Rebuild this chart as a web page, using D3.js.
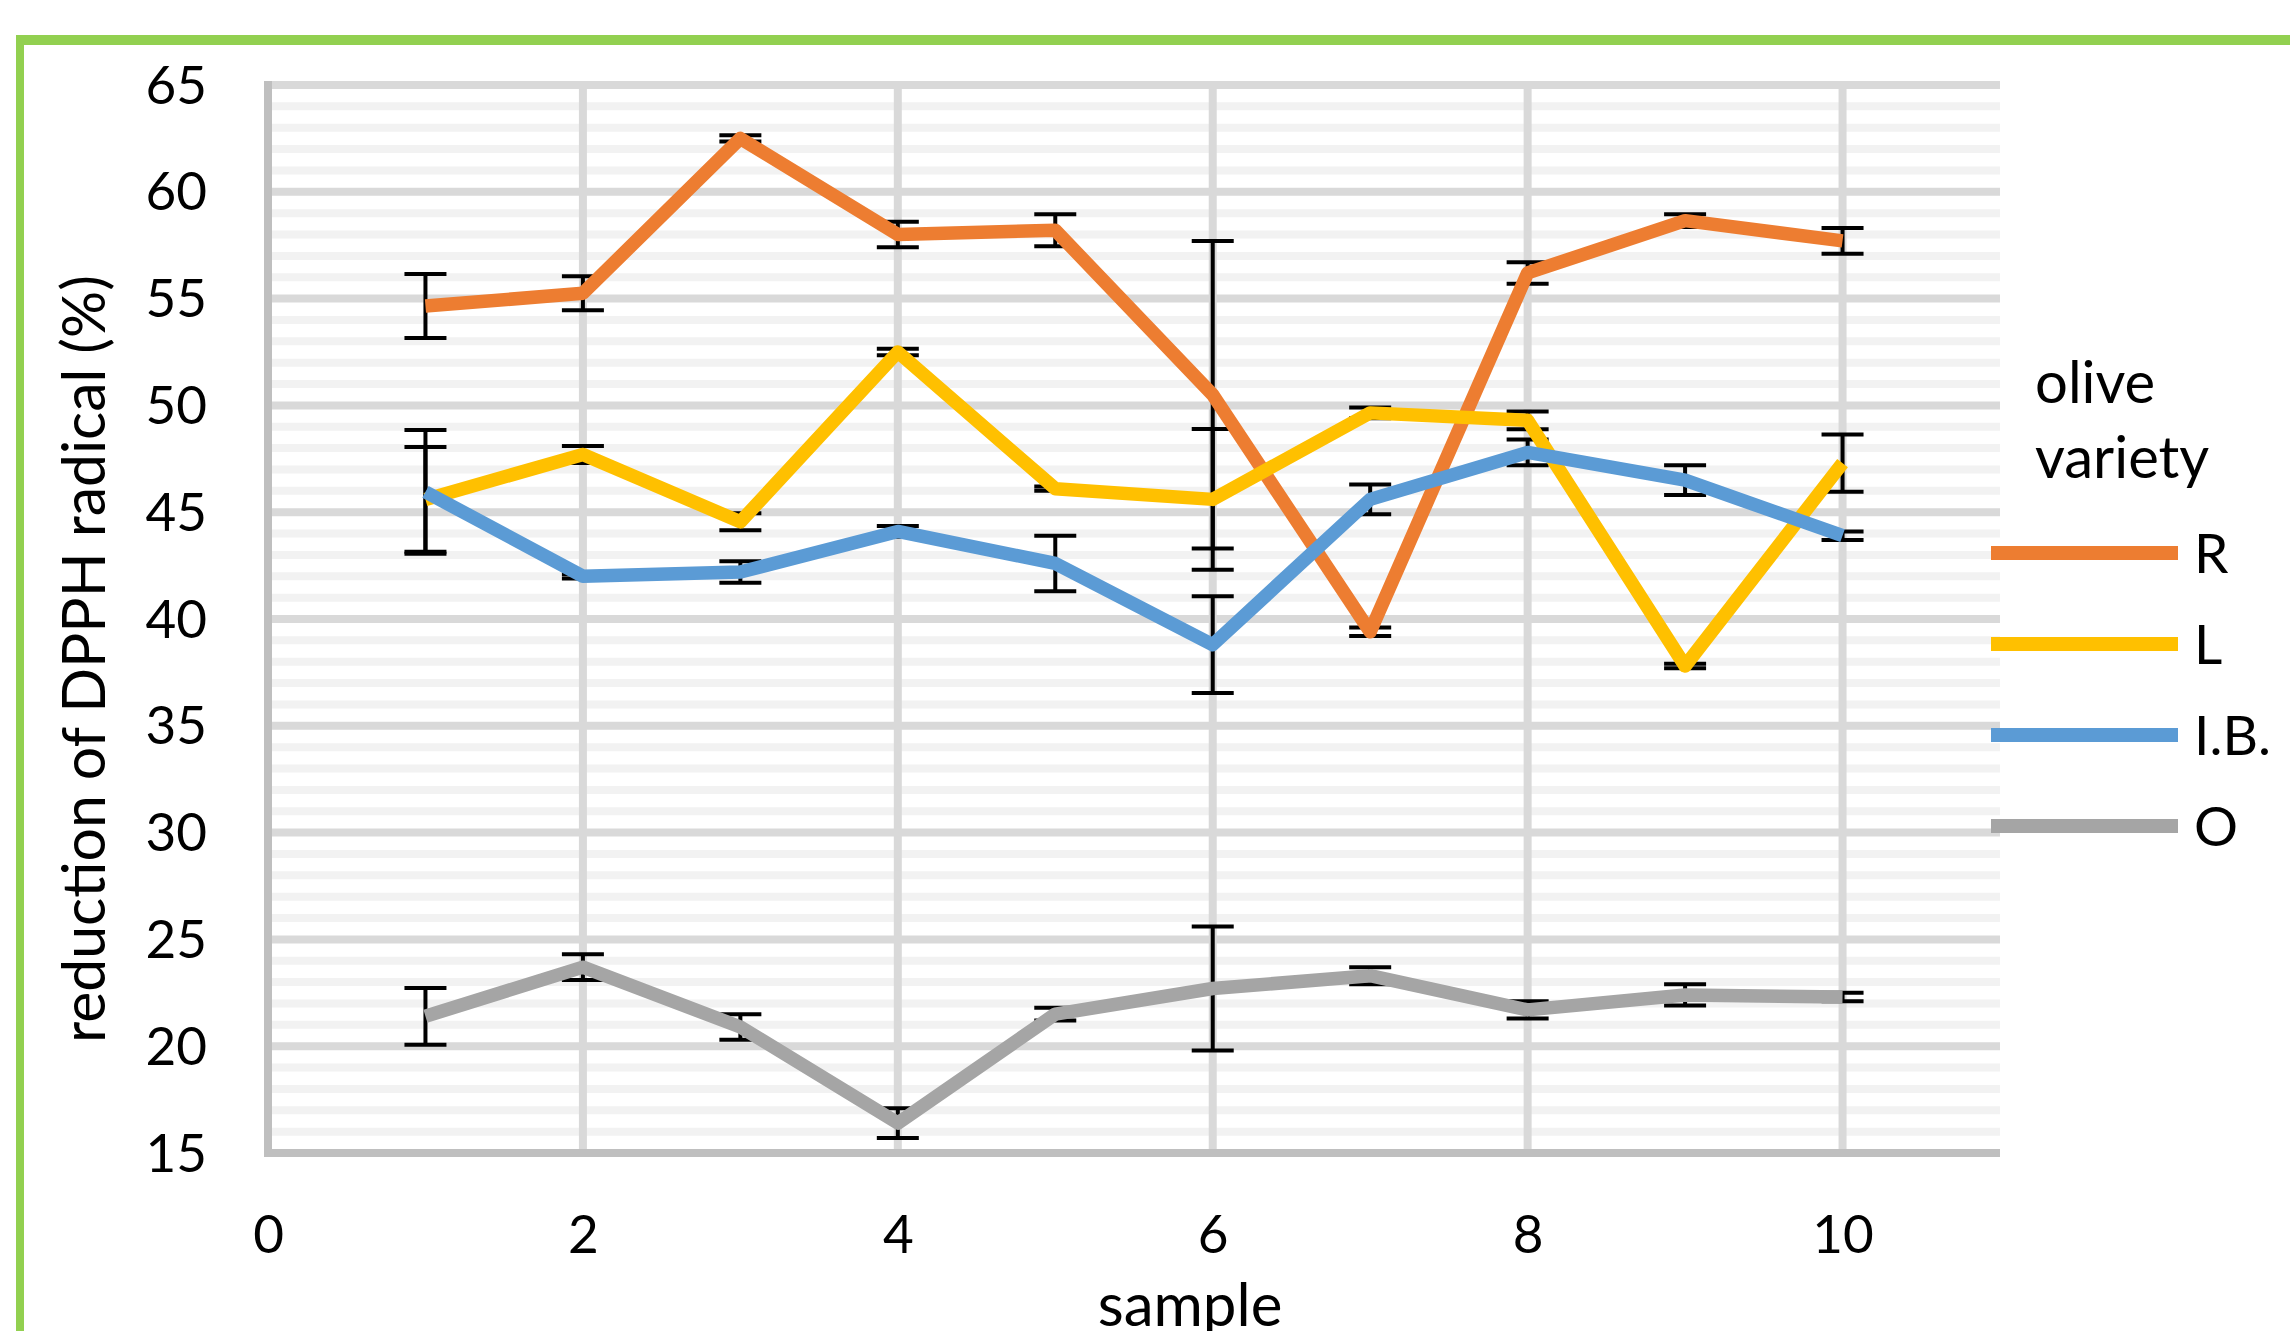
<!DOCTYPE html>
<html>
<head>
<meta charset="utf-8">
<script src="https://cdn.jsdelivr.net/npm/d3@7"></script>
<style>
  html, body { margin: 0; padding: 0; background: #ffffff; }
  svg { display: block; }
  text { font-family: Lato, "Open Sans", sans-serif; fill: #000; }
</style>
</head>
<body>
<svg id="chart" width="2290" height="1331"></svg>
<script>
// ---- data ----
const samples = [1, 2, 3, 4, 5, 6, 7, 8, 9, 10];
const seriesNames = ["R", "L", "I.B.", "O"];
const seriesColors = ["#ED7D31", "#FFC000", "#5B9BD5", "#A5A5A5"];
const valuesR  = [54.65, 55.25, 62.5, 58.0, 58.2, 50.5, 39.4, 56.2, 58.65, 57.7];
const errR     = [1.5, 0.8, 0.15, 0.6, 0.75, 7.2, 0.2, 0.5, 0.3, 0.6];
const valuesL  = [45.6, 47.7, 44.55, 52.5, 46.1, 45.6, 49.65, 49.3, 37.8, 47.3];
const errL     = [2.45, 0.4, 0.4, 0.15, 0.1, 3.3, 0.25, 0.42, 0.1, 1.34];
const valuesIB = [45.95, 42.0, 42.2, 44.1, 42.6, 38.8, 45.6, 47.8, 46.5, 43.9];
const errIB    = [2.9, 0.1, 0.5, 0.25, 1.3, 2.27, 0.7, 0.6, 0.7, 0.2];
const valuesO  = [21.4, 23.7, 20.9, 16.4, 21.5, 22.7, 23.3, 21.7, 22.4, 22.3];
const errO     = [1.33, 0.6, 0.6, 0.7, 0.3, 2.9, 0.4, 0.4, 0.5, 0.2];
const xTicks = [0, 2, 4, 6, 8, 10];
const yTicks = [15, 20, 25, 30, 35, 40, 45, 50, 55, 60, 65];
const yMinorTicks = d3.range(16, 65, 1).filter(v => v % 5 !== 0);
const xTitle = "sample";
const yTitle = "reduction of DPPH radical (%)";
const legendTitle = ["olive", "variety"];

const allValues = [valuesR, valuesL, valuesIB, valuesO];
const allErrors = [errR, errL, errIB, errO];
const series = seriesNames.map((name, i) => ({
  name, color: seriesColors[i],
  points: samples.map((s, j) => ({ x: s, y: allValues[i][j], e: allErrors[i][j] }))
}));

// ---- layout ----
const svg = d3.select("#chart");
const x = d3.scaleLinear().domain([0, 11]).range([268, 2000]);
const y = d3.scaleLinear().domain([15, 65]).range([1153, 85]);

// green frame (top + left)
svg.append("line").attr("x1", 16).attr("x2", 2290).attr("y1", 40).attr("y2", 40)
  .attr("stroke", "#92D050").attr("stroke-width", 10);
svg.append("line").attr("x1", 20).attr("x2", 20).attr("y1", 35).attr("y2", 1331)
  .attr("stroke", "#92D050").attr("stroke-width", 8);

const plot = svg.append("g");

// minor horizontal gridlines
plot.selectAll("line.minor").data(yMinorTicks).join("line")
  .attr("class", "minor")
  .attr("x1", x(0)).attr("x2", x(11))
  .attr("y1", d => y(d)).attr("y2", d => y(d))
  .attr("stroke", "#F2F2F2").attr("stroke-width", 8);

// major horizontal gridlines
plot.selectAll("line.major").data(yTicks.filter(v => v > 15)).join("line")
  .attr("class", "major")
  .attr("x1", x(0)).attr("x2", x(11))
  .attr("y1", d => y(d)).attr("y2", d => y(d))
  .attr("stroke", "#D9D9D9").attr("stroke-width", 8);

// vertical gridlines
plot.selectAll("line.vgrid").data(xTicks.filter(v => v > 0)).join("line")
  .attr("class", "vgrid")
  .attr("x1", d => x(d)).attr("x2", d => x(d))
  .attr("y1", y(65)).attr("y2", y(15))
  .attr("stroke", "#D9D9D9").attr("stroke-width", 8);

// axis lines
plot.append("line").attr("x1", x(0)).attr("x2", x(0)).attr("y1", y(65) - 4).attr("y2", y(15) + 4)
  .attr("stroke", "#BFBFBF").attr("stroke-width", 8);
plot.append("line").attr("x1", x(0) - 4).attr("x2", x(11)).attr("y1", y(15)).attr("y2", y(15))
  .attr("stroke", "#BFBFBF").attr("stroke-width", 8);

// y tick labels via d3 axis
const yAxis = d3.axisLeft(y).tickValues(yTicks).tickSize(0).tickPadding(0);
const gy = svg.append("g").attr("transform", "translate(207,0)").call(yAxis);
gy.select(".domain").remove();
gy.selectAll("text").attr("font-size", 53).attr("font-family", "Lato").attr("fill", "#000")
  .attr("dy", "0.34em").attr("text-anchor", "end");

// x tick labels via d3 axis
const xAxis = d3.axisBottom(x).tickValues(xTicks).tickSize(0).tickPadding(0);
const gx = svg.append("g").attr("transform", "translate(0,1215)").call(xAxis);
gx.select(".domain").remove();
gx.selectAll("text").attr("font-size", 53).attr("font-family", "Lato").attr("fill", "#000")
  .attr("dy", "0.72em");

// error bars (drawn beneath the lines)
const errG = svg.append("g");
series.forEach(s => {
  const g = errG.append("g");
  g.selectAll("line.stem").data(s.points).join("line")
    .attr("x1", d => x(d.x)).attr("x2", d => x(d.x))
    .attr("y1", d => y(d.y + d.e)).attr("y2", d => y(d.y - d.e))
    .attr("stroke", "#000").attr("stroke-width", 4);
  g.selectAll("line.capTop").data(s.points).join("line")
    .attr("x1", d => x(d.x) - 21).attr("x2", d => x(d.x) + 21)
    .attr("y1", d => y(d.y + d.e)).attr("y2", d => y(d.y + d.e))
    .attr("stroke", "#000").attr("stroke-width", 4);
  g.selectAll("line.capBot").data(s.points).join("line")
    .attr("x1", d => x(d.x) - 21).attr("x2", d => x(d.x) + 21)
    .attr("y1", d => y(d.y - d.e)).attr("y2", d => y(d.y - d.e))
    .attr("stroke", "#000").attr("stroke-width", 4);
});

// series lines
const lineGen = d3.line().x(d => x(d.x)).y(d => y(d.y));
svg.append("g").selectAll("path").data(series).join("path")
  .attr("d", d => lineGen(d.points))
  .attr("fill", "none")
  .attr("stroke", d => d.color)
  .attr("stroke-width", 13.5)
  .attr("stroke-linejoin", "round")
  .attr("stroke-linecap", "butt");

// axis titles
svg.append("text").attr("x", 1190).attr("y", 1326).attr("text-anchor", "middle")
  .attr("font-size", 60).text(xTitle);
svg.append("text").attr("transform", "translate(105,659) rotate(-90)")
  .attr("text-anchor", "middle").attr("font-size", 60)
  .attr("textLength", 768).attr("lengthAdjust", "spacingAndGlyphs")
  .text(yTitle);

// legend
const legend = svg.append("g");
legend.selectAll("text.lt").data(legendTitle).join("text")
  .attr("class", "lt")
  .attr("x", 2035).attr("y", (d, i) => 403 + i * 75)
  .attr("font-size", 58).text(d => d);
const legendY = d3.scalePoint().domain(seriesNames).range([553, 826]);
const items = legend.selectAll("g.item").data(series).join("g").attr("class", "item")
  .attr("transform", d => `translate(0,${legendY(d.name)})`);
items.append("line").attr("x1", 1991).attr("x2", 2178).attr("y1", 0).attr("y2", 0)
  .attr("stroke", d => d.color).attr("stroke-width", 14);
items.append("text").attr("x", 2194).attr("y", 20).attr("font-size", 55).text(d => d.name);
</script>
</body>
</html>
